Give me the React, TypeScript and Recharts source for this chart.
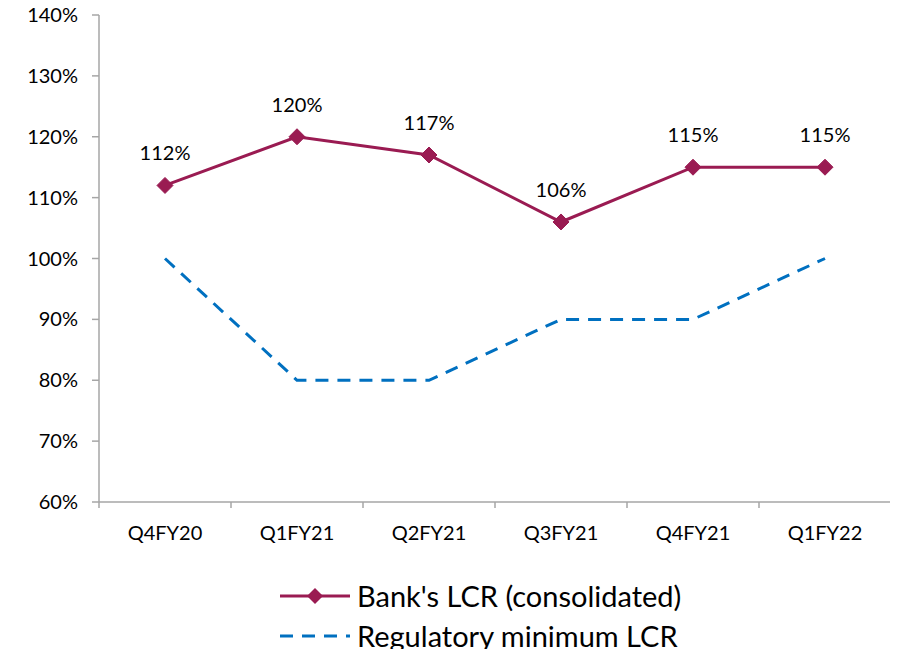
import { LabelList, Line, LineChart, XAxis, YAxis } from "recharts";

const MAROON = "#9a1b52";
const BLUE = "#0070c0";
const AXIS = "#a6a6a6";
const FONT = "Lato, 'Noto Sans', sans-serif";

const quarters = ["Q4FY20", "Q1FY21", "Q2FY21", "Q3FY21", "Q4FY21", "Q1FY22"];
const bankLcr = [112, 120, 117, 106, 115, 115];
const regMin = [100, 80, 80, 90, 90, 100];
const yTicks = [60, 70, 80, 90, 100, 110, 120, 130, 140];

const data = quarters.map((q, i) => ({ q, bank: bankLcr[i], reg: regMin[i] }));

const HALF_BAND = 66;

function Diamond(props: any) {
  const { cx, cy } = props;
  if (cx == null || cy == null) return null;
  const r = 8;
  return (
    <polygon
      points={`${cx},${cy - r} ${cx + r},${cy} ${cx},${cy + r} ${cx - r},${cy}`}
      fill={MAROON}
      stroke={MAROON}
    />
  );
}

function XTick(props: any) {
  const { x, y, payload, index } = props;
  const top = y - 24;
  return (
    <g>
      <line x1={x - HALF_BAND} y1={top} x2={x - HALF_BAND} y2={top + 6} stroke={AXIS} strokeWidth={1.5} />
      {index === quarters.length - 1 && (
        <line x1={x + HALF_BAND} y1={top} x2={x + HALF_BAND} y2={top + 6} stroke={AXIS} strokeWidth={1.5} />
      )}
      <text x={x} y={y} dy="0.71em" textAnchor="middle" fontSize={20} fill="#000" fontFamily={FONT}>
        {payload.value}
      </text>
    </g>
  );
}

function LegendBox() {
  const row = { display: "flex", alignItems: "center", height: 40, lineHeight: "34px" };
  return (
    <div style={{ position: "absolute", left: 280, top: 576, fontFamily: FONT, fontSize: 29, color: "#000" }}>
      <div style={row}>
        <svg width={72} height={20}>
          <line x1={0} y1={10} x2={70} y2={10} stroke={MAROON} strokeWidth={3} />
          <polygon points="35,2 43,10 35,18 27,10" fill={MAROON} />
        </svg>
        <span style={{ marginLeft: 5 }}>Bank's LCR (consolidated)</span>
      </div>
      <div style={row}>
        <svg width={72} height={20}>
          <line x1={0} y1={10} x2={70} y2={10} stroke={BLUE} strokeWidth={3} strokeDasharray="13 9" />
        </svg>
        <span style={{ marginLeft: 5 }}>Regulatory minimum LCR</span>
      </div>
    </div>
  );
}

export default function App() {
  return (
    <div style={{ position: "relative", width: 898, height: 657, margin: -8, background: "#fff" }}>
      <LineChart width={898} height={657} data={data} margin={{ top: 15, right: 7, bottom: 125, left: 0 }}>
        <XAxis
          dataKey="q"
          scale="band"
          stroke={AXIS}
          strokeWidth={1.5}
          tickLine={false}
          tick={<XTick />}
          tickMargin={18}
          interval={0}
        />
        <YAxis
          domain={[60, 140]}
          ticks={yTicks}
          width={99}
          stroke={AXIS}
          strokeWidth={1.5}
          tickSize={7}
          tickMargin={14}
          tick={{ fontSize: 20, fill: "#000", fontFamily: FONT }}
          tickFormatter={(v: number) => `${v}%`}
        />
        <Line
          dataKey="reg"
          stroke={BLUE}
          strokeWidth={3}
          strokeDasharray="13 9"
          dot={false}
          type="linear"
          isAnimationActive={false}
        />
        <Line
          dataKey="bank"
          stroke={MAROON}
          strokeWidth={3}
          dot={<Diamond />}
          activeDot={false}
          type="linear"
          isAnimationActive={false}
        >
          <LabelList
            dataKey="bank"
            position="top"
            offset={25}
            formatter={(v: any) => `${v}%`}
            style={{ fontSize: 20, fill: "#000", fontFamily: FONT }}
          />
        </Line>
      </LineChart>
      <LegendBox />
    </div>
  );
}
